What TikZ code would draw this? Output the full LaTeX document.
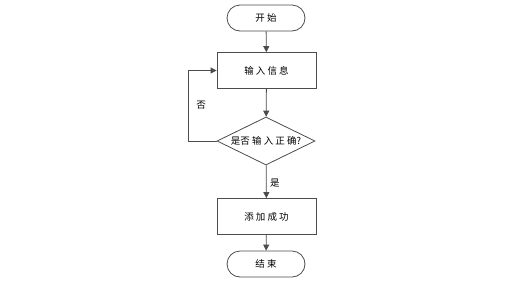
\documentclass[tikz,border=0pt]{standalone}
\usepackage{fontspec}
\setmainfont{Noto Sans CJK SC}
\usetikzlibrary{shapes.geometric,arrows.meta}

\begin{document}
\begin{tikzpicture}[x=1pt,y=1pt,
    line/.style={draw=black!70, line width=0.8pt},
    flow/.style={line, -{Triangle[length=6pt,width=6pt]}},
    terminal/.style={line, fill=white, rectangle, rounded corners=13pt, minimum width=78pt, minimum height=26pt, font=\fontsize{9.5}{11}\selectfont},
    process/.style={line, fill=white, rectangle, minimum width=99pt, minimum height=36pt, font=\fontsize{9.5}{11}\selectfont},
    decision/.style={line, fill=white, diamond, aspect=2.05, minimum width=98pt, minimum height=48pt, inner sep=0pt, font=\fontsize{9.5}{11}\selectfont},
    tag/.style={font=\fontsize{9.5}{11}\selectfont}]
        \useasboundingbox (0,0) rectangle (516,-285);
        % Nodes
        \node[terminal] (start) at (266,-18) {开 始};
        \node[process] (input) at (266.5,-70.5) {输 入 信 息};
        \node[decision] (check) at (266,-141) {是否 输 入 正 确?};
        \node[process] (add) at (266.5,-216.5) {添 加 成 功};
        \node[terminal] (end) at (266,-264) {结 束};
        \coordinate (loop) at (188,-141);
        % Connectors
        \draw[flow] (start) -- (input);
        \draw[flow] (input) -- (check);
        \draw[flow] (check) -- node[tag, right, pos=0.55] {是} (add);
        \draw[flow] (add) -- (end);
        \draw[flow] (check.west) -- (loop) |- (input.west);
        \node[tag] (no) at (201,-105) {否};
\end{tikzpicture}
\end{document}
